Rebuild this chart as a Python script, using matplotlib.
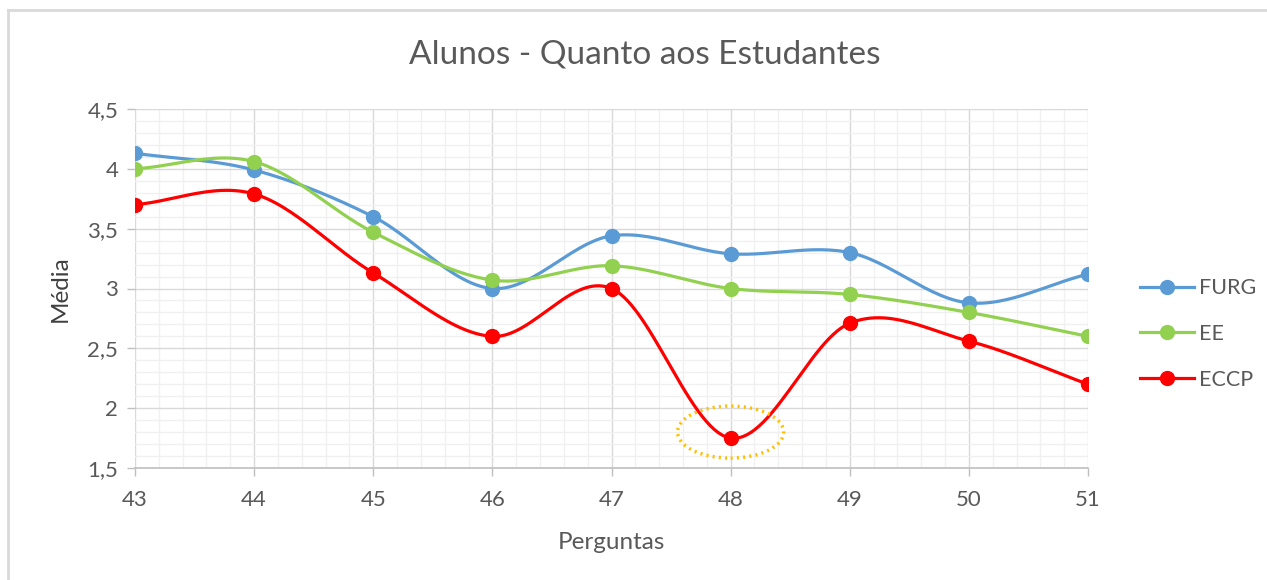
import numpy as np
import matplotlib
matplotlib.use("Agg")
from matplotlib import pyplot as plt
from matplotlib.patches import Ellipse
from matplotlib.lines import Line2D
from matplotlib.ticker import MultipleLocator, FuncFormatter

plt.rcParams['font.family'] = ['Lato', 'DejaVu Sans']

perguntas = [43, 44, 45, 46, 47, 48, 49, 50, 51]
furg = [4.13, 3.99, 3.60, 3.00, 3.44, 3.29, 3.30, 2.88, 3.12]
ee = [4.00, 4.06, 3.47, 3.07, 3.19, 3.00, 2.95, 2.80, 2.60]
eccp = [3.70, 3.79, 3.13, 2.60, 3.00, 1.75, 2.71, 2.56, 2.20]

series = [("FURG", furg, "#5B9BD5"), ("EE", ee, "#92D050"), ("ECCP", eccp, "#FF0000")]
gray = "#595959"


# excel-style smoothed line (catmull-rom through the points)
def smooth(x, y, n=30):
    x = np.asarray(x, float)
    y = np.asarray(y, float)
    px = np.concatenate([[2 * x[0] - x[1]], x, [2 * x[-1] - x[-2]]])
    py = np.concatenate([[2 * y[0] - y[1]], y, [2 * y[-1] - y[-2]]])
    xs, ys = [], []
    t = np.linspace(0, 1, n)
    for i in range(1, len(px) - 2):
        for p, out in ((px, xs), (py, ys)):
            p0, p1, p2, p3 = p[i - 1], p[i], p[i + 1], p[i + 2]
            out.extend(0.5 * (2 * p1 + (-p0 + p2) * t
                              + (2 * p0 - 5 * p1 + 4 * p2 - p3) * t ** 2
                              + (-p0 + 3 * p1 - 3 * p2 + p3) * t ** 3))
    return xs, ys


fig = plt.figure(figsize=(12.67, 5.8), dpi=100)
ax = fig.add_axes([135 / 1267, 1 - 468 / 580, (1088 - 135) / 1267, (468 - 109) / 580])

handles = []
for name, vals, color in series:
    sx, sy = smooth(perguntas, vals)
    ax.plot(sx, sy, color=color, lw=2.3, zorder=3, solid_capstyle='round')
    ax.plot(perguntas, vals, 'o', color=color, ms=10, zorder=4)
    handles.append(Line2D([], [], color=color, lw=2.3, marker='o', ms=10, label=name))

ax.add_patch(Ellipse((48, 1.80), 0.89, 0.435, fill=False, ec="#FFC000",
                     lw=2.5, ls=(0, (0.6, 1.2)), zorder=5))

ax.set_xlim(43, 51)
ax.set_ylim(1.5, 4.5)
ax.xaxis.set_major_locator(MultipleLocator(1))
ax.xaxis.set_minor_locator(MultipleLocator(0.2))
ax.yaxis.set_major_locator(MultipleLocator(0.5))
ax.yaxis.set_minor_locator(MultipleLocator(0.1))
ax.yaxis.set_major_formatter(FuncFormatter(lambda v, p: ('%g' % v).replace('.', ',')))
ax.grid(which='major', color='#d9d9d9', lw=1)
ax.grid(which='minor', color='#f0f0f0', lw=1)
ax.set_axisbelow(True)
for s in ['top', 'right', 'left']:
    ax.spines[s].set_visible(False)
ax.spines['bottom'].set_color('#bfbfbf')
ax.spines['bottom'].set_linewidth(1.2)
ax.tick_params(which='major', colors='#bfbfbf', labelcolor=gray, labelsize=16,
               length=6, width=1)
ax.tick_params(which='minor', length=0)
ax.tick_params(axis='x', pad=10)
ax.tick_params(axis='y', pad=6)

ax.set_xlabel('Perguntas', fontsize=17.5, color=gray, labelpad=16)
ax.set_ylabel('Média', fontsize=17.5, color='#404040', labelpad=12)
fig.text(645 / 1267, 1 - 55 / 580, 'Alunos - Quanto aos Estudantes', fontsize=24,
         color=gray, ha='center', va='center')

fig.legend(handles=handles, loc='center left', bbox_to_anchor=(1140 / 1267, 1 - 334 / 580),
           frameon=False, fontsize=15.5, labelcolor=gray, handlelength=2.5,
           handletextpad=0.25, labelspacing=1.2, borderpad=0, borderaxespad=0)

fig.add_artist(Line2D([8 / 1267, 8 / 1267], [0, 1 - 10 / 580], color='#d9d9d9', lw=2))
fig.add_artist(Line2D([8 / 1267, 1], [1 - 10 / 580, 1 - 10 / 580], color='#d9d9d9', lw=2))

fig.savefig('out.png', dpi=100)
